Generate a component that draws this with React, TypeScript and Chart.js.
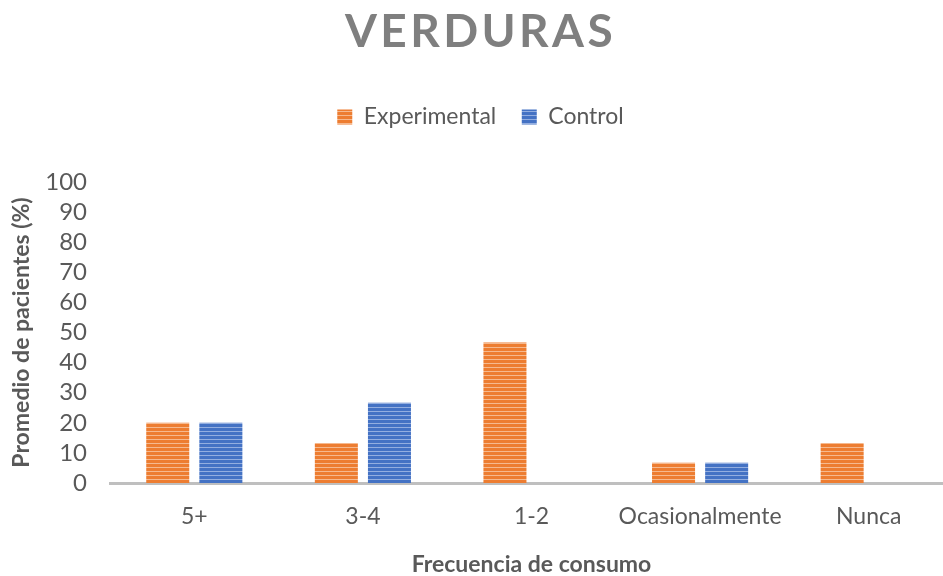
import React, { useEffect, useRef } from "react";
import { Chart, registerables } from "chart.js";

Chart.register(...registerables);

const chartTitle = "VERDURAS";
const categories = ["5+", "3-4", "1-2", "Ocasionalmente", "Nunca"];
const seriesNames = ["Experimental", "Control"];
const experimental = [20, 13.3, 46.7, 6.7, 13.3];
const control = [20, 26.7, 0, 6.7, 0];
const yMin = 0;
const yMax = 100;
const yStep = 10;
const xTitle = "Frecuencia de consumo";
const yTitle = "Promedio de pacientes (%)";

const FONT = "Lato, 'Open Sans', sans-serif";
const TEXT = "#595959";

function stripe(base: string, light: string): CanvasPattern | string {
  const c = document.createElement("canvas");
  c.width = 4;
  c.height = 4;
  const g = c.getContext("2d");
  if (!g) return base;
  g.fillStyle = base;
  g.fillRect(0, 0, 4, 4);
  g.fillStyle = light;
  g.fillRect(0, 3, 4, 1);
  return g.createPattern(c, "repeat") || base;
}

const titleSpacing = {
  id: "titleSpacing",
  afterInit(chart: any) {
    const t = chart.titleBlock;
    if (!t) return;
    const orig = t.draw.bind(t);
    t.draw = function (...args: any[]) {
      const ctx = chart.ctx as any;
      ctx.save();
      ctx.letterSpacing = "3.4px";
      orig(...args);
      ctx.restore();
    };
  },
};

export default function App() {
  const ref = useRef<HTMLCanvasElement | null>(null);

  useEffect(() => {
    document.body.style.margin = "0";
    document.body.style.overflow = "hidden";
    document.documentElement.style.overflow = "hidden";
    if (!ref.current) return;
    const orange = stripe("#ED7D31", "#F6B98E");
    const blue = stripe("#4472C4", "#93AEE0");
    const chart = new Chart(ref.current, {
      type: "bar",
      data: {
        labels: categories,
        datasets: [
          {
            label: seriesNames[0],
            data: experimental,
            backgroundColor: orange as any,
            borderWidth: 0,
            categoryPercentage: 0.63,
            barPercentage: 0.81,
          },
          {
            label: seriesNames[1],
            data: control,
            backgroundColor: blue as any,
            borderWidth: 0,
            categoryPercentage: 0.63,
            barPercentage: 0.81,
          },
        ],
      },
      options: {
        responsive: true,
        maintainAspectRatio: false,
        animation: false,
        layout: { padding: { left: 8, right: 3, top: 0, bottom: 0 } },
        plugins: {
          title: {
            display: true,
            text: chartTitle,
            color: "#7F7F7F",
            font: { family: FONT, size: 46, weight: "bold", lineHeight: 1.2 },
            padding: { top: 4.4, bottom: 20.4 },
          },
          legend: {
            display: true,
            position: "top",
            labels: {
              color: TEXT,
              font: { family: FONT, size: 23 },
              boxWidth: 15,
              boxHeight: 15,
              padding: 25.5,
            },
          },
          subtitle: {
            display: true,
            text: " ",
            weight: 500,
            font: { size: 10, lineHeight: 1.2 },
            padding: { top: 0, bottom: 31.5 },
          } as any,
          tooltip: { enabled: false },
        },
        scales: {
          x: {
            grid: { display: false, drawTicks: false },
            border: { display: true, color: "#BFBFBF", width: 3 },
            ticks: {
              color: TEXT,
              font: { family: FONT, size: 23, lineHeight: 1.2 },
              padding: 20.2,
              maxRotation: 0,
              autoSkip: false,
            },
            title: {
              display: true,
              text: xTitle,
              color: TEXT,
              font: { family: FONT, size: 23, weight: "bold", lineHeight: 1 },
              padding: { top: 2, bottom: 0 },
            },
          },
          y: {
            min: yMin,
            max: yMax,
            grid: { display: false, drawTicks: false },
            border: { display: false },
            ticks: {
              stepSize: yStep,
              autoSkip: false,
              color: TEXT,
              font: { family: FONT, size: 24, lineHeight: 1 },
              padding: 23,
            },
            title: {
              display: true,
              text: yTitle,
              color: TEXT,
              font: { family: FONT, size: 23, weight: "bold", lineHeight: 1.2 },
              padding: { top: 0, bottom: 0 },
            },
            afterFit(scale: any) {
              scale.width = 102;
            },
          },
        },
      },
      plugins: [titleSpacing],
    });
    return () => chart.destroy();
  }, []);

  return (
    <div style={{ width: 956, height: 576, position: "relative" }}>
      <canvas ref={ref} />
    </div>
  );
}
